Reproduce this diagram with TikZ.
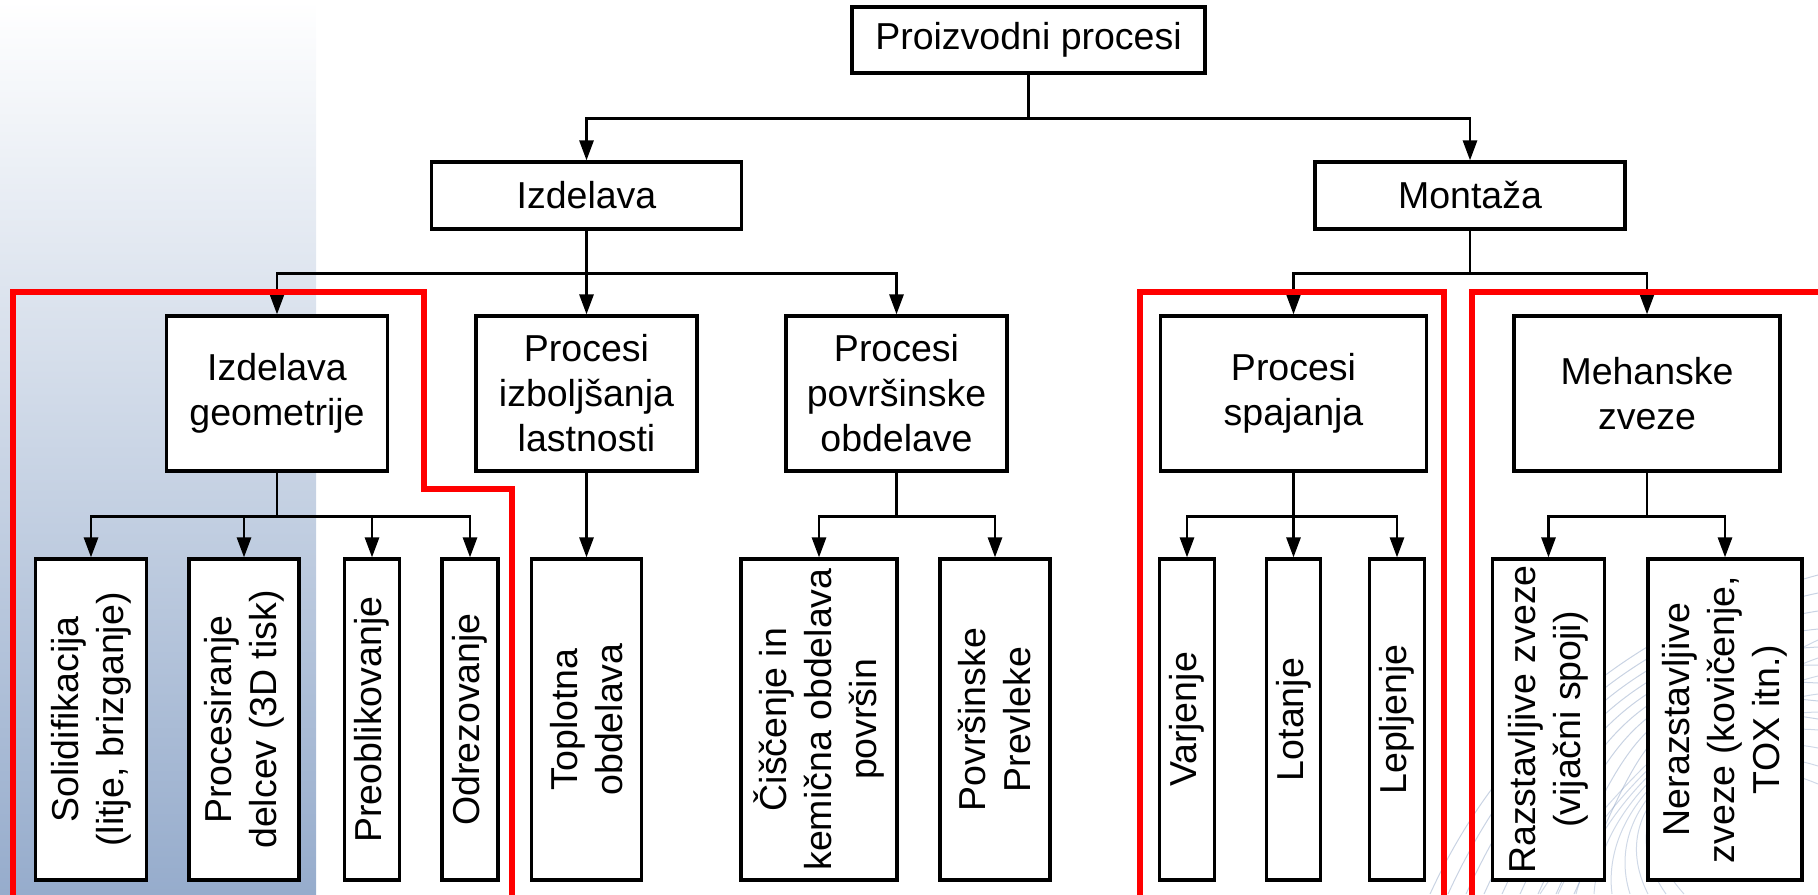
\documentclass[tikz,border=0pt]{standalone}
\usepackage{fontspec}
\setmainfont{Liberation Sans}
\usetikzlibrary{arrows.meta, positioning}
\definecolor{ozadje}{RGB}{150,172,204}
\definecolor{vijuga}{RGB}{120,145,185}
\tikzset{
    x=0.5pt, y=-0.5pt, % one unit is one pixel, y points down
    box/.style={ % Sets the properties for each box
        draw, fill=white, line width=1.6pt,
        align=center, inner sep=2pt,
        font=\fontsize{18.75}{22.5}\selectfont
    },
    midbox/.style={ % boxes of the third row
        box, minimum width=110.5pt, minimum height=77.5pt
    },
    vbox/.style={ % Rotated boxes of the lowest row
        box, rotate=90, minimum width=160.5pt
    },
    every edge/.style={ % Sets the properties for each connector
        draw, line width=1.4pt,
        -{Triangle[length=10pt,width=7pt]}
    },
    bus/.style={to path={(\tikztostart.south) -- ++(0,#1) -| (\tikztotarget)}},
    bus/.default=44,
    frame/.style={draw=red, line width=2.8pt}
}

\begin{document}
\begin{tikzpicture}
        \useasboundingbox (0,0) rectangle (1818,894);
        \clip (0,0) rectangle (1818,894);
        % ozadje
        \shade[top color=white, bottom color=ozadje] (0,0) rectangle (316,894);
        \foreach \s in {0,18,...,144}{
            \draw[vijuga, opacity=0.4, line width=0.5pt]
                (1430+\s,894) .. controls (1510+\s,720) and (1650,620+\s/2) .. (1818,575+\s);
            \draw[vijuga, opacity=0.35, line width=0.5pt]
                (1818,640+\s) .. controls (1710,690+\s/3) and (1600,800) .. (1540+\s,894);
        }
        % prva vrsta
        \node[box, minimum width=176.5pt, minimum height=33pt]   (pp)   at (1028.5,40)  {Proizvodni procesi};
        % druga vrsta
        \node[box, minimum width=155pt, minimum height=33.5pt]   (izd)  at (586.5,195.5) {Izdelava};
        \node[box, minimum width=155pt, minimum height=33.5pt]   (mon)  at (1470,195.5)  {Montaža};
        % tretja vrsta
        \node[midbox]                        (geo)  at (277,393.5)    {Izdelava\\geometrije};
        \node[midbox]                        (izb)  at (586.5,393.5)  {Procesi\\izboljšanja\\lastnosti};
        \node[midbox]                        (pov)  at (896.5,393.5)  {Procesi\\površinske\\obdelave};
        \node[midbox, minimum width=133pt]   (spa)  at (1293.5,393.5) {Procesi\\spajanja};
        \node[midbox, minimum width=133pt]   (meh)  at (1647,393.5)   {Mehanske\\zveze};
        % zadnja vrsta
        \node[vbox, minimum height=55.5pt]   (sol)  at (91,719.5)     {Solidifikacija\\(litje, brizganje)};
        \node[vbox, minimum height=55pt]     (del)  at (244,719.5)    {Procesiranje\\delcev (3D tisk)};
        \node[vbox, minimum height=27.5pt]   (pre)  at (372,719.5)    {Preoblikovanje};
        \node[vbox, minimum height=28pt]     (odr)  at (470,719.5)    {Odrezovanje};
        \node[vbox, minimum height=55pt]     (topl) at (586.5,719.5)  {Toplotna\\obdelava};
        \node[vbox, minimum height=78pt]     (cis)  at (819,719.5)    {Čiščenje in\\kemična obdelava\\površin};
        \node[vbox, minimum height=55pt]     (prev) at (995,719.5)    {Površinske\\Prevleke};
        \node[vbox, minimum height=27.5pt]   (var)  at (1187,719.5)   {Varjenje};
        \node[vbox, minimum height=27pt]     (lot)  at (1293.5,719.5) {Lotanje};
        \node[vbox, minimum height=27.5pt]   (lep)  at (1397,719.5)   {Lepljenje};
        \node[vbox, minimum height=56pt]     (raz)  at (1548.5,719.5) {Razstavljive zveze\\(vijačni spoji)};
        \node[vbox, minimum height=77pt]     (ner)  at (1725,719.5)   {Nerazstavljive\\zveze (kovičenje,\\TOX itn.)};

        \draw
                % prva vrsta
                (pp)   edge[bus]      (izd)
                (pp)   edge[bus]      (mon)
                % druga vrsta
                (izd)  edge[bus=43]   (geo)
                (izd)  edge           (izb)
                (izd)  edge[bus=43]   (pov)
                (mon)  edge[bus=43]   (spa)
                (mon)  edge[bus=43]   (meh)
                % tretja vrsta
                (geo)  edge[bus]      (sol)
                (geo)  edge[bus]      (del)
                (geo)  edge[bus]      (pre)
                (geo)  edge[bus]      (odr)
                (izb)  edge           (topl)
                (pov)  edge[bus]      (cis)
                (pov)  edge[bus]      (prev)
                (spa)  edge[bus]      (var)
                (spa)  edge           (lot)
                (spa)  edge[bus]      (lep)
                (meh)  edge[bus]      (raz)
                (meh)  edge[bus]      (ner)
        ;

        % rdeci okvirji
        \draw[frame] (13,900) |- (424,292) |- (512,489) -- (512,900);
        \draw[frame] (1140,900) |- (1444,292) -- (1444,900);
        \draw[frame] (1472,900) |- (1830,292);
\end{tikzpicture}
\end{document}
